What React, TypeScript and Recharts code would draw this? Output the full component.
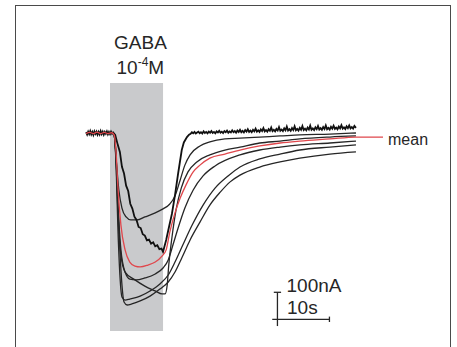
import React from 'react';
import { LineChart, Line, XAxis, YAxis, ReferenceArea, ReferenceLine } from 'recharts';

// time in s (0 = GABA on), current in nA
type Pair = [number, number];

const gabaOn = 0;
const gabaOff = 10.2;

const baseline: Pair[] = [[-4.6, 0], [0.6, 0]];

const trace1: Pair[] = [
  ...baseline,
  [0.8, -7], [1.2, -100], [1.7, -211], [2.3, -278], [3.1, -311], [4.0, -322], [5.2, -322],
  [6.7, -311], [8.7, -296], [10.2, -281], [11.5, -263], [12.5, -233], [13.5, -174], [14.4, -119],
  [15.4, -81], [17.3, -48], [19.2, -33], [22.1, -22], [25, -19], [28.8, -15], [32.7, -11],
  [36.5, -7], [42.3, -4], [47.3, 0],
];

const trace2: Pair[] = [
  ...baseline,
  [0.8, -7], [1.2, -119], [1.5, -285], [2.1, -452], [2.9, -515], [4.8, -544], [6.7, -567],
  [8.7, -585], [10.0, -596], [10.6, -596], [11.0, -563], [11.3, -489], [11.9, -389], [12.7, -285],
  [13.7, -204], [15.0, -144], [16.7, -107], [19.2, -81], [22.1, -63], [25, -52], [28.8, -37],
  [32.7, -30], [36.5, -22], [42.3, -15], [47.3, -11],
];

const trace3: Pair[] = [
  ...baseline,
  [0.8, -7], [1.2, -100], [1.5, -248], [2.1, -433], [2.9, -515], [3.8, -541], [5.0, -544],
  [6.7, -537], [8.7, -522], [10.2, -500], [11.2, -470], [12.1, -415], [13.1, -352], [14.4, -278],
  [16.0, -211], [17.9, -159], [20.2, -122], [25, -81], [28.8, -63], [32.7, -52], [36.5, -44],
  [42.3, -37], [47.3, -30],
];

const trace4: Pair[] = [
  ...baseline,
  [0.8, -7], [1.2, -137], [1.5, -341], [1.9, -526], [2.3, -607], [2.9, -619], [3.8, -615],
  [5.8, -604], [7.7, -585], [9.6, -559], [11.2, -526], [12.5, -478], [14.0, -415], [15.8, -341],
  [17.9, -267], [20.2, -204], [22.7, -159], [25, -126], [28.8, -96], [32.7, -78], [36.5, -63],
  [42.3, -52], [47.3, -44],
];

const trace5: Pair[] = [
  ...baseline,
  [0.8, -7], [1.2, -100], [1.5, -248], [1.9, -433], [2.3, -563], [2.7, -626], [3.3, -637],
  [4.2, -633], [5.8, -622], [7.7, -604], [9.6, -578], [11.2, -552], [12.5, -515], [13.8, -463],
  [15.4, -396], [17.3, -330], [19.2, -267], [21.2, -219], [23.1, -181], [25, -156], [28.8, -126],
  [32.7, -107], [36.5, -93], [42.3, -78], [47.3, -70],
];

// the noisy recording
const noisyTrace: Pair[] = [
  [-4.6, 3], [-4.4, -6], [-4.2, 5], [-4.0, -4], [-3.8, 7], [-3.6, -5], [-3.4, 4], [-3.2, -7],
  [-3.0, 6], [-2.8, -3], [-2.6, 5], [-2.4, -6], [-2.2, 4], [-2.0, -5], [-1.8, 7], [-1.6, -4],
  [-1.4, 5], [-1.2, -6], [-1.0, 4], [-0.8, -3], [-0.6, 6], [-0.4, -5], [-0.2, 4], [0, -4],
  [0.2, 5], [0.4, -3], [0.6, 2],
  [1.0, -7], [1.5, -44], [1.9, -70], [2.3, -125], [2.7, -150], [3.1, -195], [3.5, -215],
  [3.9, -262], [4.3, -280], [4.7, -310], [5.1, -322], [5.5, -348], [5.9, -352], [6.3, -375],
  [6.7, -380], [7.1, -398], [7.5, -395], [7.9, -410], [8.3, -405], [8.7, -420], [9.1, -416],
  [9.5, -430], [9.9, -428], [10.2, -440],
  [10.8, -396], [11.3, -352], [11.9, -300], [12.5, -230], [13.1, -150], [13.8, -63], [14.2, -35],
  [14.8, -15], [15.2, -6],
  [15.5, -3], [15.75, 3], [16, -1], [16.25, 4], [16.5, -2], [16.75, 2], [17, 5], [17.25, -1],
  [17.5, 3], [17.75, -2], [18, 6], [18.25, 0], [18.5, 4], [18.75, -1], [19, 5], [19.25, 1],
  [19.5, 7], [19.75, 0], [20, 4], [20.25, -1], [20.5, 6], [20.75, 2], [21, 8], [21.25, 1],
  [21.5, 5], [21.75, 0], [22, 7], [22.25, 3], [22.5, 9], [22.75, 1], [23, 6], [23.25, 2],
  [23.5, 10], [23.75, 3], [24, 7], [24.25, 1], [24.5, 9], [24.75, 4], [25, 12], [25.25, 3],
  [25.5, 8], [25.75, 2], [26, 11], [26.25, 5], [26.5, 14], [26.75, 4], [27, 9], [27.25, 3],
  [27.5, 12], [27.75, 6], [28, 16], [28.25, 5], [28.5, 10], [28.75, 4], [29, 13], [29.25, 7],
  [29.5, 18], [29.75, 6], [30, 11], [30.25, 5], [30.5, 14], [30.75, 8], [31, 20], [31.25, 7],
  [31.5, 12], [31.75, 6], [32, 15], [32.25, 9], [32.5, 22], [32.75, 8], [33, 13], [33.25, 7],
  [33.5, 17], [33.75, 10], [34, 24], [34.25, 9], [34.5, 14], [34.75, 8], [35, 18], [35.25, 11],
  [35.5, 25], [35.75, 10], [36, 15], [36.25, 9], [36.5, 19], [36.75, 12], [37, 26], [37.25, 11],
  [37.5, 16], [37.75, 10], [38, 20], [38.25, 13], [38.5, 27], [38.75, 12], [39, 17], [39.25, 11],
  [39.5, 21], [39.75, 14], [40, 26], [40.25, 13], [40.5, 18], [40.75, 12], [41, 22], [41.25, 15],
  [41.5, 28], [41.75, 14], [42, 19], [42.25, 13], [42.5, 23], [42.75, 16], [43, 27], [43.25, 15],
  [43.5, 20], [43.75, 14], [44, 24], [44.25, 17], [44.5, 29], [44.75, 16], [45, 21], [45.25, 15],
  [45.5, 25], [45.75, 18], [46, 28], [46.25, 17], [46.5, 22], [46.75, 16], [47, 26], [47.3, 19],
];

const meanTrace: Pair[] = [
  [-4.6, -2], [-3.9, 2], [-3.2, -2], [-2.5, 3], [-1.8, -2], [-1.1, 2], [-0.4, -2], [0.3, 1],
  [0.8, -7], [1.2, -81], [1.5, -193], [2.1, -341], [2.9, -433], [3.8, -478], [4.8, -493],
  [5.8, -496], [7.3, -489], [8.7, -478], [10.0, -456], [10.8, -433], [11.5, -367], [12.5, -296],
  [13.5, -241], [14.6, -193], [16.0, -144], [17.3, -119], [19.2, -93], [22.1, -78], [25, -63],
  [28.8, -48], [32.7, -37], [36.5, -30], [42.3, -22], [47.3, -15], [52.5, -15],
];

const blackTraces = [trace1, trace2, trace3, trace4, trace5];

const toPts = (arr: Pair[]) => arr.map(([t, v]) => ({ t, v }));

const W = 457;
const H = 347;
const INK = '#262626';
const FONT = 'Arial, "Liberation Sans", Helvetica, sans-serif';

export default function App() {
  return (
    <div style={{ position: 'absolute', left: 0, top: 0, width: W, height: H, overflow: 'hidden', background: '#fff' }}>
      <div
        style={{
          position: 'absolute',
          left: 14.5,
          top: 5,
          width: 436,
          height: 400,
          border: '1.5px solid #4a4a4a',
          boxSizing: 'border-box',
        }}
      />
      <div style={{ position: 'absolute', left: 0, top: 0 }}>
        <LineChart width={W} height={H} margin={{ top: 0, right: 0, bottom: 0, left: 0 }}>
          <XAxis type="number" dataKey="t" domain={[-21.154, 66.731]} allowDataOverflow hide />
          <YAxis type="number" dataKey="v" domain={[-792.6, 492.6]} allowDataOverflow hide />
          <ReferenceArea x1={gabaOn} x2={gabaOff} y1={-733} y2={185} fill="#c9cacc" fillOpacity={1} stroke="none" />
          {blackTraces.map((tr, i) => (
            <Line
              key={i}
              data={toPts(tr)}
              dataKey="v"
              type="monotone"
              stroke={INK}
              strokeWidth={1.3}
              dot={false}
              activeDot={false}
              isAnimationActive={false}
            />
          ))}
          <Line
            data={toPts(noisyTrace)}
            dataKey="v"
            type="linear"
            stroke="#111"
            strokeWidth={1.8}
            dot={false}
            activeDot={false}
            isAnimationActive={false}
          />
          <Line
            data={toPts(meanTrace)}
            dataKey="v"
            type="monotone"
            stroke="#e0474c"
            strokeWidth={1.3}
            dot={false}
            activeDot={false}
            isAnimationActive={false}
          />
          {/* scale bar: 100 nA, 10 s */}
          <ReferenceLine segment={[{ x: 32.2, y: -590 }, { x: 32.2, y: -715 }]} stroke={INK} strokeWidth={1.3} ifOverflow="visible" />
          <ReferenceLine segment={[{ x: 31.5, y: -590 }, { x: 32.9, y: -590 }]} stroke={INK} strokeWidth={1.3} ifOverflow="visible" />
          <ReferenceLine segment={[{ x: 31.2, y: -690 }, { x: 42.2, y: -690 }]} stroke={INK} strokeWidth={1.3} ifOverflow="visible" />
          <ReferenceLine segment={[{ x: 42.2, y: -680 }, { x: 42.2, y: -700 }]} stroke={INK} strokeWidth={1.3} ifOverflow="visible" />
        </LineChart>
      </div>
      <svg width={W} height={H} style={{ position: 'absolute', left: 0, top: 0, pointerEvents: 'none' }}>
        <g fill={INK} fontFamily={FONT}>
          <text x={140.5} y={48.5} fontSize={19} textAnchor="middle">GABA</text>
          <text x={116.5} y={73.5} fontSize={19}>
            10<tspan fontSize={12} dy={-8}>-4</tspan><tspan dy={8}>M</tspan>
          </text>
          <text x={388} y={145} fontSize={16}>mean</text>
          <text x={286.5} y={291.5} fontSize={19}>100nA</text>
          <text x={287} y={313.5} fontSize={19}>10s</text>
        </g>
      </svg>
    </div>
  );
}
